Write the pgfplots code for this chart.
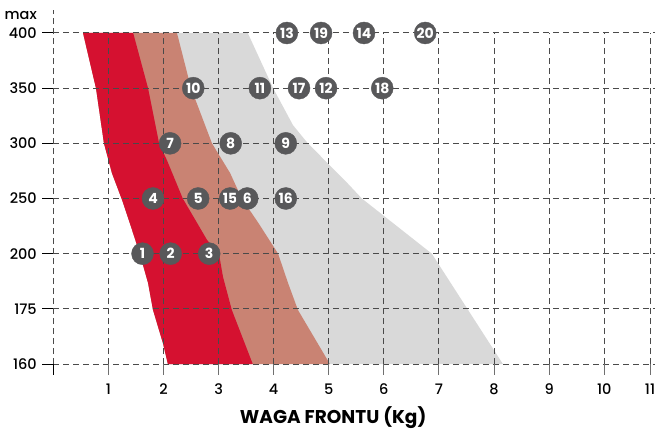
\documentclass[border=0pt]{standalone}
\usepackage{fontspec}
\setmainfont{Poppins}
\newfontfamily\pmed{Poppins Medium}
\usepackage{pgfplots}
\usepackage{pgfplotstable}
\pgfplotsset{compat=1.18}
\definecolor{cred}{HTML}{D51130}
\definecolor{csalmon}{HTML}{C98373}
\definecolor{cgray}{HTML}{D9D9D9}
\definecolor{cmark}{HTML}{58585A}
\definecolor{cgrid}{HTML}{4A4A4A}
\definecolor{ctick}{HTML}{707070}

\pgfplotstableread{
x y label
1.62 2 1
2.13 2 2
2.83 2 3
1.81 3 4
2.63 3 5
3.21 3 15
3.52 3 6
4.22 3 16
2.12 4 7
3.22 4 8
4.22 4 9
2.54 5 10
3.75 5 11
4.46 5 17
4.95 5 12
5.97 5 18
4.24 6 13
4.86 6 19
5.64 6 14
6.75 6 20
}\markers

\begin{document}
\begin{tikzpicture}
\begin{axis}[
  x=55.1bp, y=55.17bp,
  xmin=0, xmax=10.92, ymin=0, ymax=6,
  clip=false,
  axis line style={draw=none},
  major tick length=0pt,
  xtick={1,2,3,4,5,6,7,8,9,10,10.83},
  xticklabels={1,2,3,4,5,6,7,8,9,10,11},
  ytick={0,1,2,3,4,5,6},
  yticklabels={160,175,200,250,300,350,400},
  xtick pos=bottom, ytick pos=left,
  tick label style={font=\pmed\fontsize{14.5bp}{16bp}\selectfont, text=black},
  xticklabel style={anchor=base, yshift=-30bp},
  yticklabel style={anchor=east, xshift=-13bp},
]
% areas
\addplot[fill=cgray, draw=none] coordinates {
 (0.54,6) (0.775,5) (0.92,4) (1.065,3.46) (1.25,2.97) (1.43,2.43) (1.57,2.0) (1.72,1.47) (1.81,0.98) (1.99,0.38) (2.08,0)
 (8.16,0) (6.87,2) (5.60,3) (5.29,3.33) (4.62,4) (4.35,4.33) (3.99,5) (3.53,6)} -- cycle;
\addplot[fill=csalmon, draw=none] coordinates {
 (0.54,6) (0.775,5) (0.92,4) (1.065,3.46) (1.25,2.97) (1.43,2.43) (1.57,2.0) (1.72,1.47) (1.81,0.98) (1.99,0.38) (2.08,0)
 (5.02,0) (4.44,0.98) (4.26,1.47) (4.08,2.0) (3.72,2.56) (3.42,3.0) (3.21,3.46) (2.88,4) (2.50,5) (2.245,6)} -- cycle;
\addplot[fill=cred, draw=none] coordinates {
 (0.54,6) (0.775,5) (0.92,4) (1.065,3.46) (1.25,2.97) (1.43,2.43) (1.57,2.0) (1.72,1.47) (1.81,0.98) (1.99,0.38) (2.08,0)
 (3.62,0) (3.24,0.98) (3.08,1.58) (3.01,1.98) (2.79,2.25) (2.35,3.0) (2.06,3.70) (1.92,4) (1.72,5) (1.45,6)} -- cycle;
% grid
\pgfplotsinvokeforeach{0,1,2,3,4,5,6}{
  \draw[cgrid, line width=1bp, dash pattern=on 6bp off 4bp] (axis cs:0,#1) -- (axis cs:10.92,#1);
  \draw[black, line width=1bp] (axis cs:0,#1) -- ++(-11bp,0);
}
\pgfplotsinvokeforeach{1,2,3,4,5,6,7,8,9,10,10.83}{
  \draw[cgrid, line width=1bp, dash pattern=on 6bp off 4bp] (axis cs:#1,0) -- (axis cs:#1,6);
  \draw[ctick, line width=1bp] (axis cs:#1,0) -- ++(0,-11bp);
}
\draw[cgrid, line width=1bp, dash pattern=on 6bp off 4bp] (axis cs:0,0) -- (axis cs:0,6.42);
\draw[black, line width=1bp] (axis cs:0,0) -- ++(0,-11bp);
% markers
\addplot[only marks, mark=*, mark size=11bp, mark options={draw=cmark, fill=cmark},
  point meta=explicit symbolic, nodes near coords,
  nodes near coords style={anchor=center, text=white, inner sep=0pt,
    font=\bfseries\fontsize{14bp}{14bp}\selectfont}]
  table[x=x, y=y, meta=label] {\markers};
% labels
\node[anchor=east, xshift=-13bp, font=\pmed\fontsize{14.5bp}{16bp}\selectfont] at (axis cs:0,6.31) {max};
\node[font=\bfseries\fontsize{18.5bp}{20bp}\selectfont] at (axis cs:5.08,-0.98) {WAGA FRONTU (Kg)};
\coordinate (bbl) at (axis cs:-0.967,-1.251);
\coordinate (bbr) at (axis cs:10.975,6.598);
\end{axis}
\pgfresetboundingbox
\useasboundingbox (bbl) rectangle (bbr);
\end{tikzpicture}
\end{document}
